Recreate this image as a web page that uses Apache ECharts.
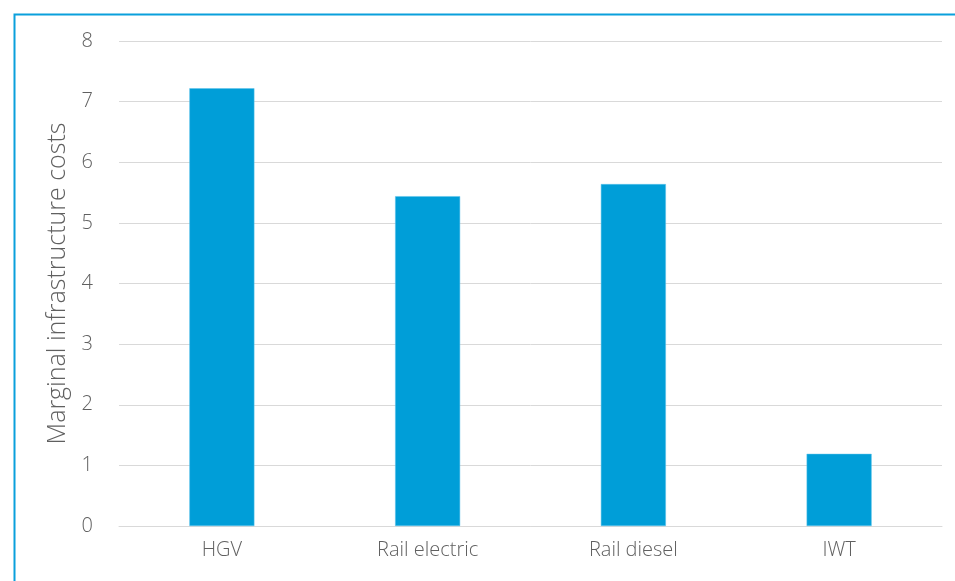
<!DOCTYPE html>
<html><head><meta charset="utf-8">
<script src="https://cdn.jsdelivr.net/npm/echarts@6/dist/echarts.min.js"></script>
<style>html,body{margin:0;padding:0;background:#fff}#c{width:955px;height:581px}</style>
</head><body><div id="c"></div>
<script>
const categories = ['HGV', 'Rail electric', 'Rail diesel', 'IWT'];
const costs = [7.22, 5.44, 5.64, 1.19];
const yTicks = [0, 1, 2, 3, 4, 5, 6, 7, 8];

const chart = echarts.init(document.getElementById('c'), null, {renderer: 'canvas'});
const txt = '#606060';
chart.setOption({
  animation: false,
  backgroundColor: '#fff',
  graphic: [{
    type: 'rect', left: 12, top: 12, shape: {width: 1000, height: 700},
    style: {fill: 'none', stroke: '#0AA0DC', lineWidth: 2}, silent: true
  }],
  grid: {left: 119, right: 13, top: 41, bottom: 55},
  xAxis: {
    type: 'category', data: categories,
    axisLine: {show: true, lineStyle: {color: '#D9D9D9', width: 1}},
    axisTick: {show: false},
    axisLabel: {color: txt, fontFamily: 'Open Sans', fontWeight: 300, fontSize: 20, margin: 14}
  },
  yAxis: {
    type: 'value', min: yTicks[0], max: yTicks[yTicks.length - 1], interval: 1,
    name: 'Marginal infrastructure costs', nameLocation: 'middle', nameGap: 40,
    nameTextStyle: {color: txt, fontFamily: 'Open Sans', fontWeight: 300, fontSize: 25},
    axisLine: {show: false}, axisTick: {show: false},
    axisLabel: {color: txt, fontFamily: 'Open Sans', fontWeight: 300, fontSize: 20, margin: 26},
    splitLine: {lineStyle: {color: '#D9D9D9', width: 1}}
  },
  series: [{
    type: 'bar', data: costs, barWidth: '31.6%',
    itemStyle: {color: '#009ED8', borderColor: '#5CC3EA', borderWidth: 0.5}
  }]
});
</script></body></html>
